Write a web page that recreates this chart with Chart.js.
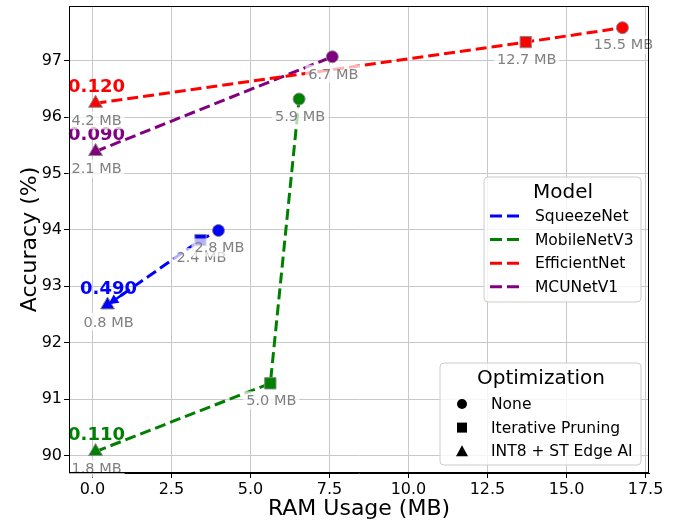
<!DOCTYPE html>
<html>
<head>
<meta charset="utf-8">
<script src="https://cdn.jsdelivr.net/npm/chart.js@4.4.1/dist/chart.umd.min.js"></script>
<style>
  body { margin: 0; background: #fff; }
  #wrap { width: 678px; height: 525px; }
</style>
</head>
<body>
<div id="wrap"><canvas id="chart" width="678" height="525"></canvas></div>
<script>
// data
var models = ['SqueezeNet', 'MobileNetV3', 'EfficientNet', 'MCUNetV1'];
var modelColors = ['#0000ff', '#008000', '#ff0000', '#800080'];
var optimizations = ['None', 'Iterative Pruning', 'INT8 + ST Edge AI'];

// 0 = None, 1 = Iterative Pruning, 2 = INT8 + ST Edge AI
var squeezeOpt = [2, 1, 0];
var squeezeRam = [0.48, 3.42, 3.99];
var squeezeAcc = [92.67, 93.82, 93.99];
var squeezeSize = ['0.8 MB', '2.4 MB', '2.8 MB'];

var mobileOpt = [2, 1, 0];
var mobileRam = [0.1, 5.63, 6.54];
var mobileAcc = [90.07, 91.28, 96.32];
var mobileSize = ['1.8 MB', '5.0 MB', '5.9 MB'];

var effOpt = [2, 1, 0];
var effRam = [0.1, 13.71, 16.77];
var effAcc = [96.245, 97.33, 97.585];
var effSize = ['4.2 MB', '12.7 MB', '15.5 MB'];

var mcuOpt = [2, 0];
var mcuRam = [0.1, 7.59];
var mcuAcc = [95.39, 97.07];
var mcuSize = ['2.1 MB', '6.7 MB'];

var drops = ['0.490', '0.110', '0.120', '0.090'];
var arrowOn = [true, false, false, false];

var FONT = '"DejaVu Sans", sans-serif';
var optStyles = ['circle', 'rect', 'triangle'];
var optRadius = [6, 8, 8];

function makeSet(i, ram, acc, opt, size) {
    var pts = [];
    for (var k = 0; k < ram.length; k++) pts.push({x: ram[k], y: acc[k]});
    return {
        label: models[i],
        data: pts,
        showLine: true,
        borderColor: modelColors[i],
        borderWidth: 3,
        borderDash: [11, 5],
        backgroundColor: modelColors[i],
        pointBackgroundColor: modelColors[i],
        pointBorderColor: '#888888',
        pointBorderWidth: 1,
        pointStyle: opt.map(function (o) { return optStyles[o]; }),
        pointRadius: opt.map(function (o) { return optRadius[o]; }),
        pointHoverRadius: opt.map(function (o) { return optRadius[o]; }),
        sizes: size,
        drop: drops[i],
        arrow: arrowOn[i]
    };
}

function boxAt(ctx, x, y, w, h, r) {
    ctx.beginPath();
    ctx.moveTo(x + r, y);
    ctx.arcTo(x + w, y, x + w, y + h, r);
    ctx.arcTo(x + w, y + h, x, y + h, r);
    ctx.arcTo(x, y + h, x, y, r);
    ctx.arcTo(x, y, x + w, y, r);
    ctx.closePath();
    ctx.fillStyle = 'rgba(255,255,255,0.8)';
    ctx.fill();
    ctx.strokeStyle = '#cccccc';
    ctx.lineWidth = 1;
    ctx.stroke();
}

var overlay = {
    id: 'overlay',
    afterDatasetsDraw: function (chart) {
        var ctx = chart.ctx;
        ctx.save();
        chart.data.datasets.forEach(function (ds, i) {
            var meta = chart.getDatasetMeta(i);
            var p0 = meta.data[0];
            // arrow pointing at the quantized point
            if (ds.arrow) {
                var p1 = meta.data[1];
                var dx = p1.x - p0.x, dy = p1.y - p0.y;
                var len = Math.sqrt(dx * dx + dy * dy);
                dx /= len; dy /= len;
                var sx = p0.x + dx * 20, sy = p0.y + dy * 20;
                ctx.strokeStyle = ds.borderColor;
                ctx.fillStyle = ds.borderColor;
                ctx.lineWidth = 2.5;
                ctx.beginPath();
                ctx.moveTo(sx, sy);
                ctx.lineTo(p0.x + dx * 6, p0.y + dy * 6);
                ctx.stroke();
                var hx = p0.x + dx * 1, hy = p0.y + dy * 1;
                ctx.beginPath();
                ctx.moveTo(hx, hy);
                ctx.lineTo(hx + dx * 10 - dy * 5, hy + dy * 10 + dx * 5);
                ctx.lineTo(hx + dx * 10 + dy * 5, hy + dy * 10 - dx * 5);
                ctx.closePath();
                ctx.fill();
            }
            ctx.font = 'bold 18px ' + FONT;
            ctx.textAlign = 'center';
            ctx.textBaseline = 'middle';
            ctx.fillStyle = ds.borderColor;
            ctx.fillText(ds.drop, p0.x + 1, p0.y - 16);
        });
        chart.data.datasets.forEach(function (ds, i) {
            var meta = chart.getDatasetMeta(i);
            ctx.font = '14.5px ' + FONT;
            meta.data.forEach(function (pt, k) {
                var txt = ds.sizes[k];
                var w = ctx.measureText(txt).width;
                var cx = pt.x + 1, cy = pt.y + 17;
                ctx.fillStyle = 'rgba(255,255,255,0.7)';
                ctx.fillRect(cx - w / 2 - 3, cy - 9, w + 6, 18);
                ctx.fillStyle = '#808080';
                ctx.fillText(txt, cx, cy + 1);
            });
        });
        ctx.restore();
    },
    afterDraw: function (chart) {
        var ctx = chart.ctx;
        var a = chart.chartArea;
        ctx.save();
        ctx.strokeStyle = '#000';
        ctx.lineWidth = 1;
        ctx.strokeRect(a.left + 0.5, a.top + 0.5, a.right - a.left - 1, a.bottom - a.top - 1);

        // Model legend
        var lx = a.right - 165, ly = a.top + 171;
        boxAt(ctx, lx, ly, 157, 125, 4);
        ctx.fillStyle = '#000';
        ctx.textBaseline = 'middle';
        ctx.textAlign = 'center';
        ctx.font = '20px ' + FONT;
        ctx.fillText('Model', lx + 79, ly + 16);
        ctx.textAlign = 'left';
        ctx.font = '15.5px ' + FONT;
        models.forEach(function (m, i) {
            var ry = ly + 39 + i * 23.6;
            ctx.strokeStyle = modelColors[i];
            ctx.lineWidth = 3;
            ctx.setLineDash([12, 5]);
            ctx.beginPath();
            ctx.moveTo(lx + 6, ry);
            ctx.lineTo(lx + 40, ry);
            ctx.stroke();
            ctx.setLineDash([]);
            ctx.fillStyle = '#000';
            ctx.fillText(m, lx + 51, ry + 1);
        });

        // Optimization legend
        var ox = a.right - 209, oy = a.top + 357;
        boxAt(ctx, ox, oy, 201, 102, 4);
        ctx.fillStyle = '#000';
        ctx.textAlign = 'center';
        ctx.font = '20px ' + FONT;
        ctx.fillText('Optimization', ox + 101, oy + 16);
        ctx.textAlign = 'left';
        ctx.font = '15.5px ' + FONT;
        optimizations.forEach(function (o, i) {
            var ry = oy + 41 + i * 23.6;
            var mx = ox + 22;
            ctx.fillStyle = '#000';
            ctx.beginPath();
            if (i === 0) {
                ctx.arc(mx, ry, 5, 0, Math.PI * 2);
            } else if (i === 1) {
                ctx.rect(mx - 5, ry - 5, 10, 10);
            } else {
                ctx.moveTo(mx, ry - 6);
                ctx.lineTo(mx + 6, ry + 5);
                ctx.lineTo(mx - 6, ry + 5);
                ctx.closePath();
            }
            ctx.fill();
            ctx.fillText(o, ox + 51, ry + 1);
        });
        ctx.restore();
    }
};

var ctx = document.getElementById('chart').getContext('2d');
var chart = new Chart(ctx, {
    type: 'scatter',
    data: {
        datasets: [
            makeSet(0, squeezeRam, squeezeAcc, squeezeOpt, squeezeSize),
            makeSet(1, mobileRam, mobileAcc, mobileOpt, mobileSize),
            makeSet(2, effRam, effAcc, effOpt, effSize),
            makeSet(3, mcuRam, mcuAcc, mcuOpt, mcuSize)
        ]
    },
    options: {
        responsive: false,
        animation: false,
        layout: { autoPadding: false, padding: { top: 6, right: 29, left: 0, bottom: 0 } },
        plugins: {
            legend: { display: false },
            tooltip: { enabled: false }
        },
        scales: {
            x: {
                type: 'linear',
                min: -0.74,
                max: 17.61,
                afterFit: function (s) { s.height = 52; s.paddingLeft = 0; s.paddingRight = 0; },
                ticks: {
                    stepSize: 2.5,
                    includeBounds: false,
                    padding: 2,
                    color: '#000',
                    maxRotation: 0,
                    font: { family: FONT, size: 16 },
                    callback: function (v) { return v.toFixed(1); }
                },
                grid: { color: '#c8c8c8', lineWidth: 1, tickLength: 5, tickColor: '#000' },
                border: { color: '#000', width: 1 },
                title: {
                    display: true,
                    text: 'RAM Usage (MB)',
                    color: '#000',
                    font: { family: FONT, size: 22 },
                    padding: { top: 0, bottom: 3 }
                }
            },
            y: {
                type: 'linear',
                min: 89.69,
                max: 97.97,
                afterFit: function (s) { s.width = 69; s.paddingTop = 0; s.paddingBottom = 0; },
                ticks: {
                    stepSize: 1,
                    includeBounds: false,
                    padding: 2,
                    color: '#000',
                    font: { family: FONT, size: 16 },
                    callback: function (v) { return v.toFixed(0); }
                },
                grid: { color: '#c8c8c8', lineWidth: 1, tickLength: 5, tickColor: '#000' },
                border: { color: '#000', width: 1 },
                title: {
                    display: true,
                    text: 'Accuracy (%)',
                    color: '#000',
                    font: { family: FONT, size: 22 },
                    padding: { top: 17, bottom: 0 }
                }
            }
        }
    },
    plugins: [overlay]
});
</script>
</body>
</html>
